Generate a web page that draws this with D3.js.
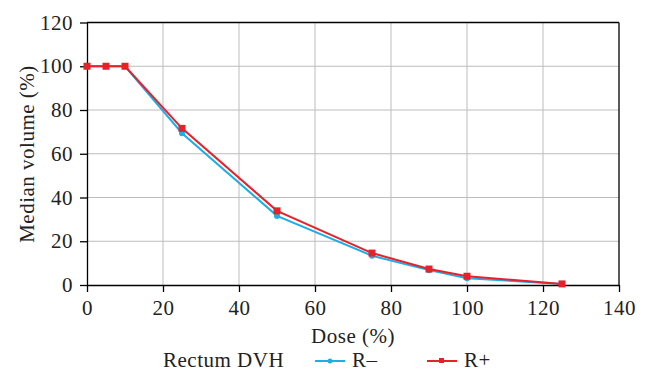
<html>
<head>
<style>
body { margin: 0; background-color: white; }
text { font-family: "Liberation Serif", "DejaVu Serif", serif; fill: #222; letter-spacing: 0.5px; }
.axis line, .axis path { stroke: black; }
.grid line { stroke: #bdbdbd; }
</style>
<script src="https://d3js.org/d3.v7.min.js"></script>
</head>
<body>
<svg id="chart" width="645" height="374"></svg>
<script>
var doses = [0, 5, 10, 25, 50, 75, 90, 100, 125];
var rMinus = [100, 100, 100, 69.4, 31.6, 13.4, 6.8, 3.1, 0.5];
var rPlus = [100, 100, 100, 71.6, 33.9, 14.6, 7.3, 4.0, 0.5];
var xTicks = [0, 20, 40, 60, 80, 100, 120, 140];
var yTicks = [0, 20, 40, 60, 80, 100, 120];

var svg = d3.select("#chart");
var x = d3.scaleLinear().domain([0, 140]).range([87, 619]);
var y = d3.scaleLinear().domain([0, 120]).range([285, 22.5]);
var fs = "21px";

// grid
svg.append("g").attr("class", "grid")
  .selectAll("line.v").data(xTicks.slice(1, -1)).enter().append("line")
  .attr("x1", function(d) { return x(d); }).attr("x2", function(d) { return x(d); })
  .attr("y1", y(120)).attr("y2", y(0));
svg.append("g").attr("class", "grid")
  .selectAll("line.h").data(yTicks.slice(1, -1)).enter().append("line")
  .attr("y1", function(d) { return y(d); }).attr("y2", function(d) { return y(d); })
  .attr("x1", x(0)).attr("x2", x(140));

// frame top/right
svg.append("line").attr("x1", x(0)).attr("x2", x(140)).attr("y1", y(120)).attr("y2", y(120))
  .attr("stroke", "black").attr("stroke-width", 1.3);
svg.append("line").attr("x1", x(140)).attr("x2", x(140)).attr("y1", y(120)).attr("y2", y(0))
  .attr("stroke", "black").attr("stroke-width", 1.3);

var xAxis = svg.append("g").attr("class", "axis")
  .attr("transform", "translate(0," + y(0) + ")")
  .call(d3.axisBottom(x).tickValues(xTicks).tickSize(7).tickSizeOuter(0).tickPadding(8));
xAxis.selectAll("text").style("font-size", fs).attr("fill", "#222");

var yAxis = svg.append("g").attr("class", "axis")
  .attr("transform", "translate(" + x(0) + ",0)")
  .call(d3.axisLeft(y).tickValues(yTicks).tickSize(7).tickSizeOuter(0).tickPadding(7));
yAxis.selectAll("text").style("font-size", fs).attr("fill", "#222");
svg.selectAll(".axis path, .axis line").attr("stroke-width", 1.3);

svg.append("text").attr("x", 353).attr("y", 343).attr("text-anchor", "middle")
  .style("font-size", fs).text("Dose (%)");
svg.append("text").attr("transform", "translate(34,154) rotate(-90)").attr("text-anchor", "middle")
  .style("font-size", fs).text("Median volume (%)");

var line = d3.line().x(function(d) { return x(d[0]); }).y(function(d) { return y(d[1]); });
var blue = "#1eaee6", red = "#e8202a";
var minusPts = doses.map(function(d, i) { return [d, rMinus[i]]; });
var plusPts = doses.map(function(d, i) { return [d, rPlus[i]]; });

svg.append("path").datum(minusPts).attr("fill", "none").attr("stroke", blue)
  .attr("stroke-width", 2).attr("d", line);
svg.selectAll("circle.m").data(minusPts).enter().append("circle")
  .attr("cx", function(d) { return x(d[0]); }).attr("cy", function(d) { return y(d[1]); })
  .attr("r", 3).attr("fill", blue);

svg.append("path").datum(plusPts).attr("fill", "none").attr("stroke", red)
  .attr("stroke-width", 2).attr("d", line);
svg.selectAll("rect.p").data(plusPts).enter().append("rect")
  .attr("x", function(d) { return x(d[0]) - 3.5; }).attr("y", function(d) { return y(d[1]) - 3.5; })
  .attr("width", 7).attr("height", 7).attr("fill", red);

// legend
var lg = svg.append("g").attr("transform", "translate(0,367)");
lg.append("text").attr("x", 163).attr("y", 0).style("font-size", fs).text("Rectum DVH");
lg.append("line").attr("x1", 315).attr("x2", 345).attr("y1", -6).attr("y2", -6).attr("stroke", blue).attr("stroke-width", 2);
lg.append("circle").attr("cx", 330).attr("cy", -6).attr("r", 2.5).attr("fill", blue);
lg.append("text").attr("x", 352).attr("y", 0).style("font-size", fs).text("R\u2013");
lg.append("line").attr("x1", 427).attr("x2", 457).attr("y1", -6).attr("y2", -6).attr("stroke", red).attr("stroke-width", 2);
lg.append("rect").attr("x", 439).attr("y", -9).attr("width", 5).attr("height", 5).attr("fill", red);
lg.append("text").attr("x", 464).attr("y", 0).style("font-size", fs).text("R+");
</script>
</body>
</html>
